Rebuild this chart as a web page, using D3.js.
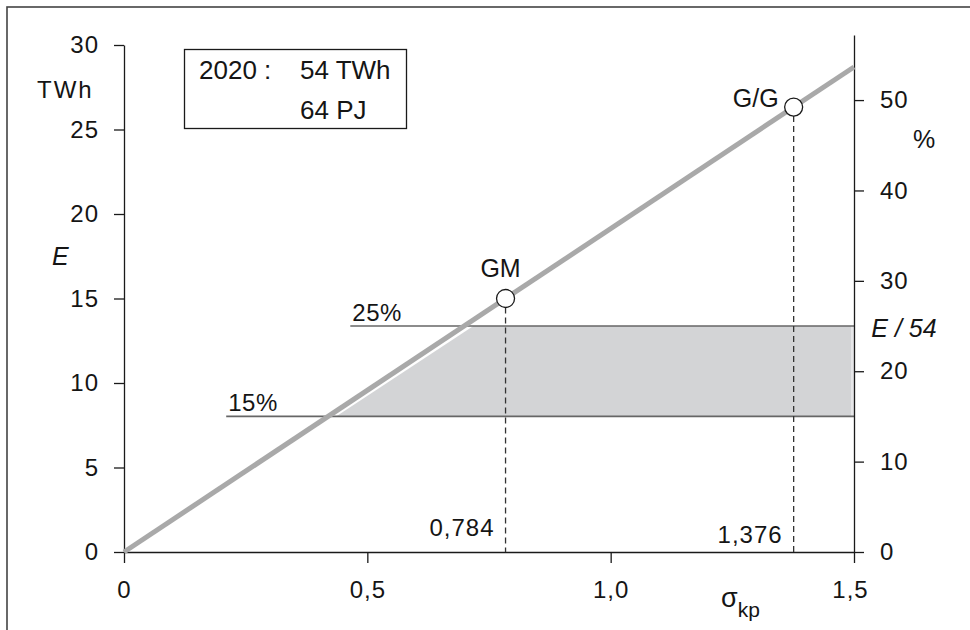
<!DOCTYPE html>
<html>
<head>
<meta charset="utf-8">
<script src="https://cdn.jsdelivr.net/npm/d3@7"></script>
<style>
  html, body { margin: 0; padding: 0; background: #fff; }
  svg { display: block; font-family: "Liberation Sans", Arial, sans-serif; }
  .axis path, .axis line { stroke: #1a1a1a; stroke-width: 1.3; }
  .axis text { font-size: 24px; fill: #151515; letter-spacing: 1px; }
  .lbl { fill: #151515; }
</style>
</head>
<body>
<svg id="chart" width="970" height="630"></svg>
<script>
// Annual energy E (TWh) against the coefficient sigma_kp
const xTicks = [0, 0.5, 1.0, 1.5];
const xTickLabels = ["0", "0,5", "1,0", "1,5"];
const leftTicks = [0, 5, 10, 15, 20, 25, 30];
const rightTicks = [0, 10, 20, 30, 40, 50];

// straight relation E(sigma) through the origin
const lineSigma = [0, 1.5];
const lineEnergy = [0, 28.7];

// share bounds of the 2020 total (percent)
const bandPct = [15, 25];
const bandLabels = ["15%", "25%"];

// marked operating points
const pointNames = ["GM", "G/G"];
const pointSigma = [0.784, 1.376];
const pointLabels = ["0,784", "1,376"];

const svg = d3.select("#chart");

const x = d3.scaleLinear().domain([0, 1.5]).range([124, 854]);
const yE = d3.scaleLinear().domain([0, 30]).range([552, 45]);
const yPct = d3.scaleLinear().domain([0, 57.2]).range([552, 35]);

const slope = lineEnergy[1] / lineSigma[1];
const eAt = s => slope * s;
const sigmaAtPct = p => (p / 100 * 54) / slope;

// outer frame
svg.append("rect")
  .attr("x", 7).attr("y", 7).attr("width", 980).attr("height", 640)
  .attr("fill", "none").attr("stroke", "#444").attr("stroke-width", 1.6);

// shaded band between the share bounds, right of the line
const bandPts = [
  [x(sigmaAtPct(bandPct[0])) + 6, yPct(bandPct[0])],
  [x(1.5) - 3, yPct(bandPct[0])],
  [x(1.5) - 3, yPct(bandPct[1])],
  [x(sigmaAtPct(bandPct[1])) + 6, yPct(bandPct[1])]
];
svg.append("polygon")
  .attr("points", bandPts.map(p => p.join(",")).join(" "))
  .attr("fill", "#d3d4d6");
svg.append("rect")
  .attr("x", x(1.5) - 3).attr("y", yPct(bandPct[1]))
  .attr("width", 3).attr("height", yPct(bandPct[0]) - yPct(bandPct[1]))
  .attr("fill", "#e6e6e8");

// band boundary lines
const bandStart = [0.21, 0.465];
bandPct.forEach((p, i) => {
  svg.append("line")
    .attr("x1", x(bandStart[i])).attr("x2", x(1.5))
    .attr("y1", yPct(p)).attr("y2", yPct(p))
    .attr("stroke", "#666").attr("stroke-width", 1.6);
  svg.append("text").attr("class", "lbl")
    .attr("x", x(bandStart[i]) + 2).attr("y", yPct(p) - 5)
    .attr("font-size", 24).attr("letter-spacing", 0.5)
    .text(bandLabels[i]);
});

// axes
const xAxis = d3.axisBottom(x).tickValues(xTicks)
  .tickFormat((d, i) => xTickLabels[i]).tickSize(11).tickSizeOuter(0).tickPadding(18);
const gx = svg.append("g").attr("class", "axis")
  .attr("transform", `translate(0,${yE(0)})`).call(xAxis);
gx.selectAll(".tick").filter(d => d === 1.5).select("text").attr("dx", -4);

const leftAxis = d3.axisLeft(yE).tickValues(leftTicks)
  .tickSize(10).tickSizeOuter(0).tickPadding(15);
svg.append("g").attr("class", "axis")
  .attr("transform", `translate(${x(0)},0)`).call(leftAxis);

const rightAxis = d3.axisRight(yPct).tickValues(rightTicks)
  .tickSize(10).tickSizeOuter(0).tickPadding(16);
svg.append("g").attr("class", "axis")
  .attr("transform", `translate(${x(1.5)},0)`).call(rightAxis);

// the relation line
svg.append("path")
  .datum(lineSigma.map((s, i) => [s, lineEnergy[i]]))
  .attr("d", d3.line().x(d => x(d[0])).y(d => yE(d[1])))
  .attr("fill", "none").attr("stroke", "#a9a9a9").attr("stroke-width", 5);

// operating points with drop lines
pointSigma.forEach((s, i) => {
  const px = x(s), py = yE(eAt(s));
  svg.append("line")
    .attr("x1", px).attr("x2", px).attr("y1", py + 9).attr("y2", yE(0))
    .attr("stroke", "#333").attr("stroke-width", 1.3)
    .attr("stroke-dasharray", "6,4");
  svg.append("circle")
    .attr("cx", px).attr("cy", py).attr("r", 9)
    .attr("fill", "#fff").attr("stroke", "#1a1a1a").attr("stroke-width", 1.3);
  svg.append("text").attr("class", "lbl")
    .attr("x", px - 11).attr("y", i === 0 ? 536 : 543)
    .attr("text-anchor", "end").attr("font-size", 24).attr("letter-spacing", 1)
    .text(pointLabels[i]);
});
svg.append("text").attr("class", "lbl")
  .attr("x", x(pointSigma[0]) - 5).attr("y", yE(eAt(pointSigma[0])) - 21)
  .attr("text-anchor", "middle").attr("font-size", 25)
  .text(pointNames[0]);
svg.append("text").attr("class", "lbl")
  .attr("x", x(pointSigma[1]) - 15).attr("y", yE(eAt(pointSigma[1])) + 0)
  .attr("text-anchor", "end").attr("font-size", 25)
  .text(pointNames[1]);

// axis titles
svg.append("text").attr("class", "lbl").attr("x", 37).attr("y", 98)
  .attr("font-size", 24).attr("letter-spacing", 2).text("TWh");
svg.append("text").attr("class", "lbl").attr("x", 52).attr("y", 265)
  .attr("font-size", 25).attr("font-style", "italic").text("E");
svg.append("text").attr("class", "lbl").attr("x", 913).attr("y", 148)
  .attr("font-size", 25).text("%");
svg.append("text").attr("class", "lbl").attr("x", 904).attr("y", 337).attr("text-anchor", "middle")
  .attr("font-size", 25).attr("font-style", "italic").text("E / 54");
const xt = svg.append("text").attr("class", "lbl").attr("x", 721).attr("y", 607)
  .attr("font-size", 27);
xt.append("tspan").text("σ");
xt.append("tspan").attr("font-size", 21).attr("dy", 10).text("kp");

// info box
svg.append("rect")
  .attr("x", 184.5).attr("y", 49.5).attr("width", 222).attr("height", 79)
  .attr("fill", "#fff").attr("stroke", "#1a1a1a").attr("stroke-width", 1.3);
svg.append("text").attr("class", "lbl").attr("x", 199).attr("y", 79)
  .attr("font-size", 26).text("2020 :");
svg.append("text").attr("class", "lbl").attr("x", 300).attr("y", 79)
  .attr("font-size", 26).text("54 TWh");
svg.append("text").attr("class", "lbl").attr("x", 300).attr("y", 119)
  .attr("font-size", 26).text("64 PJ");
</script>
</body>
</html>
